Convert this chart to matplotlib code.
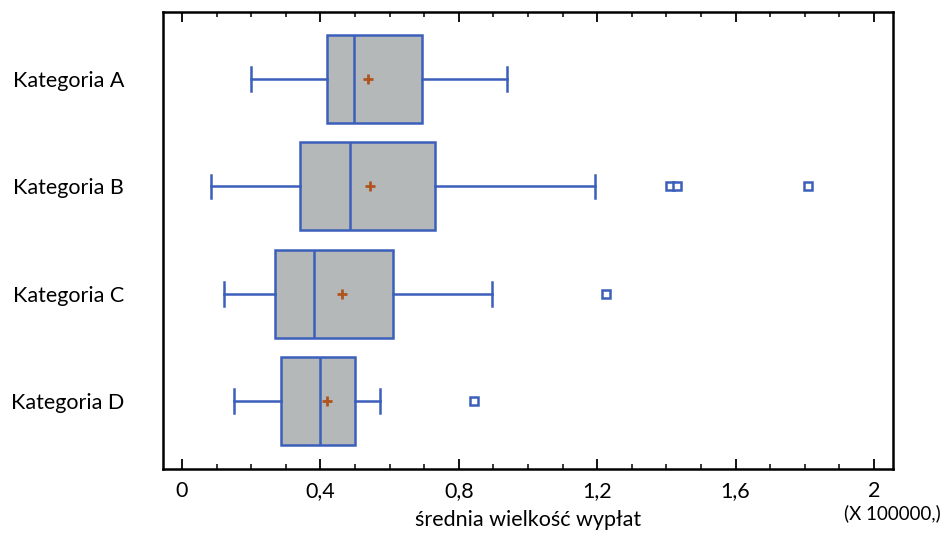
import numpy as np
import matplotlib.pyplot as plt
from matplotlib.ticker import MultipleLocator, FuncFormatter

plt.rcParams['font.family'] = ['Lato', 'DejaVu Sans']

categories = ['Kategoria A', 'Kategoria B', 'Kategoria C', 'Kategoria D']
whislo = [0.20, 0.085, 0.12, 0.15]
q1 = [0.42, 0.34, 0.27, 0.285]
med = [0.497, 0.485, 0.382, 0.40]
q3 = [0.695, 0.732, 0.61, 0.50]
whishi = [0.94, 1.195, 0.895, 0.572]
means = [0.538, 0.543, 0.462, 0.42]
fliers = [[], [1.41, 1.432, 1.81], [1.225], [0.845]]

blue = '#3b5fbb'
gray = '#b5b8b9'
brown = '#b0541d'

stats = []
for i in range(len(categories)):
    stats.append(dict(label=categories[i], whislo=whislo[i], q1=q1[i], med=med[i],
                      q3=q3[i], whishi=whishi[i], mean=means[i], fliers=fliers[i]))

fig = plt.figure(figsize=(9.45, 5.39), dpi=100)
ax = fig.add_axes([0.1725, 0.130, 0.7725, 0.848])

pos = np.arange(len(categories))
ax.bxp(stats, positions=pos, vert=False, widths=0.82, patch_artist=True,
       showmeans=True, showcaps=True,
       boxprops=dict(facecolor=gray, edgecolor=blue, linewidth=1.8),
       medianprops=dict(color=blue, linewidth=1.8),
       whiskerprops=dict(color=blue, linewidth=1.8),
       capprops=dict(color=blue, linewidth=1.8),
       capwidths=0.22,
       meanprops=dict(marker='+', markeredgecolor=brown, markersize=7, markeredgewidth=2),
       flierprops=dict(marker='s', markerfacecolor='white', markeredgecolor=blue,
                       markersize=6, markeredgewidth=1.8))

ax.set_ylim(3.63, -0.625)
ax.set_xlim(-0.055, 2.055)
ax.set_yticks(pos)
ax.set_yticklabels(categories, fontsize=15.5)
ax.tick_params(axis='y', length=0, pad=28)

ax.xaxis.set_major_locator(MultipleLocator(0.4))
ax.xaxis.set_minor_locator(MultipleLocator(0.1))
ax.xaxis.set_major_formatter(FuncFormatter(lambda v, p: ('%g' % round(v, 2)).replace('.', ',')))
ax.tick_params(axis='x', which='major', direction='in', length=7, width=1.3,
               top=True, labelsize=15.5, pad=9)
ax.tick_params(axis='x', which='minor', direction='in', length=3.5, width=1.1, top=True)

for s in ax.spines.values():
    s.set_linewidth(1.8)

ax.set_xlabel('średnia wielkość wypłat', fontsize=15.5, labelpad=6)
fig.text(0.996, 0.047, '(X 100000,)', fontsize=13.5, ha='right', va='center')

fig.savefig('out.png', dpi=100)
